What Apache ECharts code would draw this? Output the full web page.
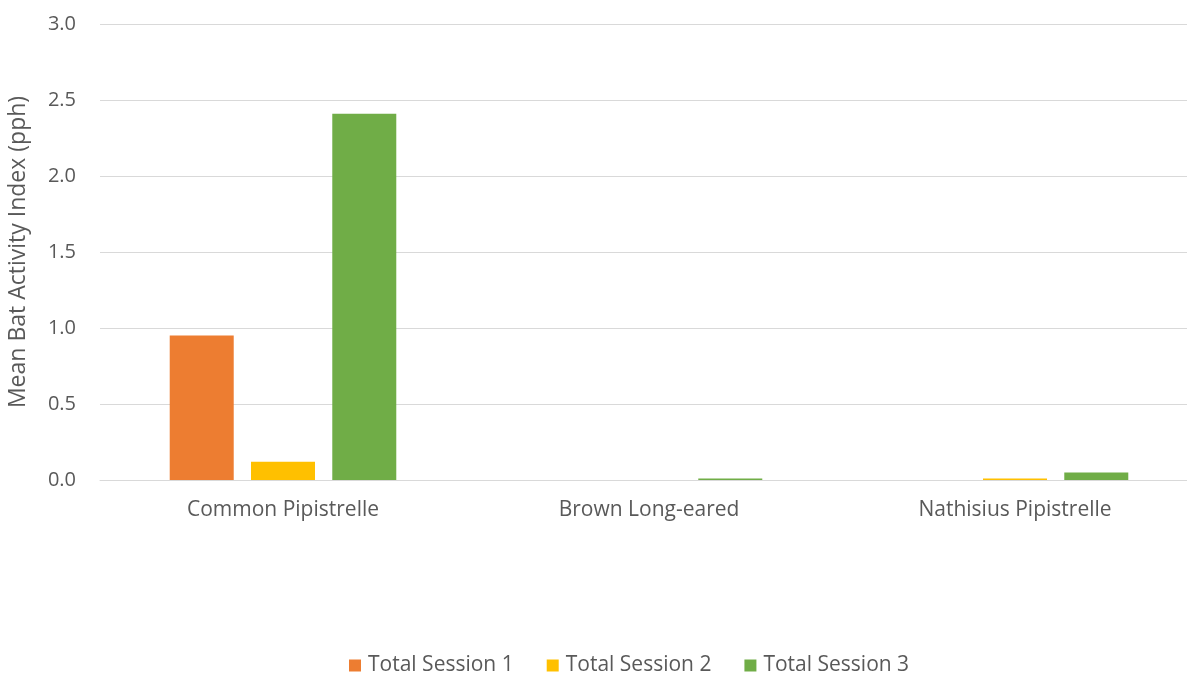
<!DOCTYPE html>
<html>
<head>
<meta charset="utf-8">
<script src="https://cdn.jsdelivr.net/npm/echarts@6/dist/echarts.min.js"></script>
<style>
  html, body { margin: 0; padding: 0; background: #ffffff; }
  #chart { width: 1187px; height: 675px; }
</style>
</head>
<body>
<div id="chart"></div>
<script>
// Bat species surveyed
const species = ['Common Pipistrelle', 'Brown Long-eared', 'Nathisius Pipistrelle'];

// Mean activity index (passes per hour) per survey session
const session1 = [0.95, 0, 0];
const session2 = [0.12, 0, 0.01];
const session3 = [2.41, 0.01, 0.05];

const seriesNames = ['Total Session 1', 'Total Session 2', 'Total Session 3'];
const seriesColors = ['#ED7D31', '#FFC000', '#70AD47'];

const FONT = '"Open Sans", sans-serif';
const TEXT = '#595959';

const chart = echarts.init(document.getElementById('chart'), null, { renderer: 'canvas' });

const makeSeries = (name, data, color) => ({
  name,
  type: 'bar',
  data,
  barWidth: 64,
  barGap: '27%',
  itemStyle: { color },
  emphasis: { disabled: true }
});

chart.setOption({
  animation: false,
  backgroundColor: '#ffffff',
  grid: {
    left: 100, top: 24, width: 1098, height: 456,
    containLabel: false, outerBoundsMode: 'none'
  },
  legend: {
    left: 349,
    top: 655,
    padding: 0,
    itemWidth: 12,
    itemHeight: 12,
    itemGap: 33,
    icon: 'rect',
    textStyle: { color: TEXT, fontFamily: FONT, fontSize: 21, padding: [0, 0, 0, 2] },
    data: seriesNames
  },
  xAxis: {
    type: 'category',
    data: species,
    axisLine: { show: true, lineStyle: { color: '#d9d9d9', width: 1 } },
    axisTick: { show: false },
    axisLabel: { color: TEXT, fontFamily: FONT, fontSize: 21, margin: 20 }
  },
  yAxis: {
    type: 'value',
    min: 0,
    max: 3,
    interval: 0.5,
    name: 'Mean Bat Activity Index (pph)',
    nameLocation: 'middle',
    nameGap: 70,
    nameRotate: 90,
    nameTextStyle: { color: TEXT, fontFamily: FONT, fontSize: 23 },
    axisLine: { show: false },
    axisTick: { show: false },
    splitLine: { lineStyle: { color: '#d9d9d9', width: 1 } },
    axisLabel: {
      color: TEXT, fontFamily: FONT, fontSize: 20, margin: 24,
      formatter: v => v.toFixed(1)
    }
  },
  series: [
    makeSeries(seriesNames[0], session1, seriesColors[0]),
    makeSeries(seriesNames[1], session2, seriesColors[1]),
    makeSeries(seriesNames[2], session3, seriesColors[2])
  ]
});
</script>
</body>
</html>
